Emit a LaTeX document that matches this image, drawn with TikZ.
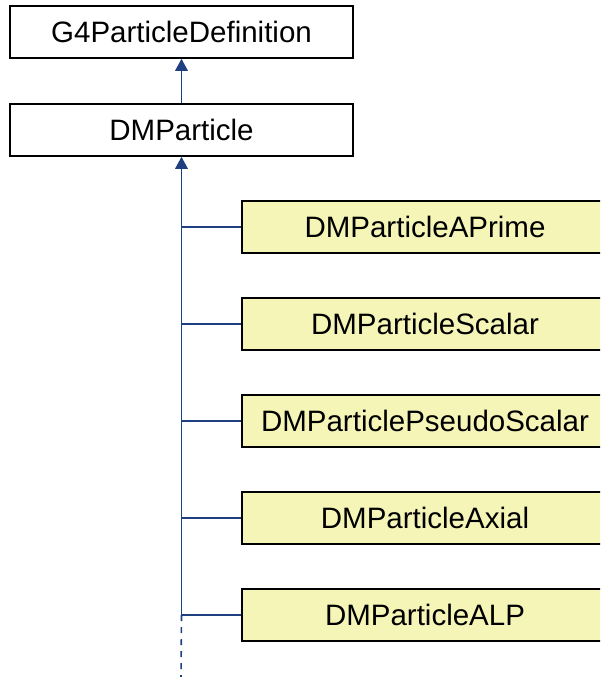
\documentclass[tikz,border=0pt]{standalone}
\usepackage{fontspec}
\setmainfont{Liberation Sans}
\usetikzlibrary{arrows.meta}
\definecolor{linkblue}{HTML}{1F4080}
\definecolor{classyellow}{HTML}{F5F5B8}
\tikzset{
  base/.style={draw=black, line width=1.6pt, fill=white, minimum width=343pt,
    minimum height=52pt, inner sep=0pt, font=\fontsize{29.5}{34}\selectfont},
  derived/.style={base, fill=classyellow, minimum width=366pt},
  inherit/.style={draw=linkblue, line width=1.6pt},
  inheritarrow/.style={inherit, -{Triangle[width=12.5pt,length=12pt]}},
}
\begin{document}
\begin{tikzpicture}[x=1pt,y=-1pt]
  \useasboundingbox (0,0) rectangle (600,677);
  \clip (0,0) rectangle (600,677);

  % base classes
  \node[base] (g4) at (181.5,32) {G4ParticleDefinition};
  \node[base] (dm) at (181.5,130) {DMParticle};

  % concrete dark-matter particle classes
  \node[derived] (aprime) at (425,227) {DMParticleAPrime};
  \node[derived] (scalar) at (425,324) {DMParticleScalar};
  \node[derived] (pseudo) at (425,421) {DMParticlePseudoScalar};
  \node[derived] (axial)  at (425,518) {DMParticleAxial};
  \node[derived] (alp)    at (425,615) {DMParticleALP};

  % trunk of the inheritance tree
  \coordinate (trunk) at (dm.south |- alp.west);
  \coordinate (more) at (181,677);

  \draw[inheritarrow] (dm) -- (g4);
  \draw[inheritarrow] (trunk) -- (dm);
  \foreach \n in {aprime,scalar,pseudo,axial,alp}
    \draw[inherit] (\n.west) -- (dm.south |- \n.west);
  \draw[inherit, dash pattern=on 6pt off 6pt] (trunk) -- (more);
\end{tikzpicture}
\end{document}
